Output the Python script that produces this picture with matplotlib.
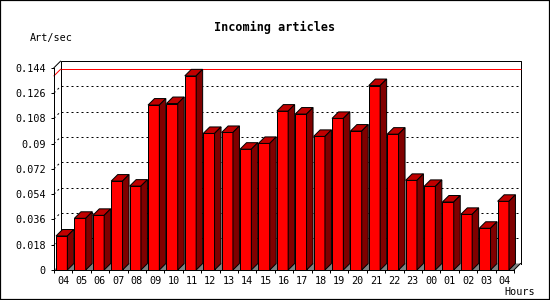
import matplotlib
matplotlib.use('Agg')
import matplotlib.pyplot as plt
import numpy as np
from matplotlib.patches import Polygon, Rectangle

# Data
hours = ['04', '05', '06', '07', '08', '09', '10', '11', '12', '13', '14', '15', '16',
         '17', '18', '19', '20', '21', '22', '23', '00', '01', '02', '03', '04']
art_per_sec = [0.0242, 0.0368, 0.0389, 0.0633, 0.0597, 0.1174, 0.1185, 0.1382, 0.0972,
               0.0979, 0.0860, 0.0901, 0.1131, 0.1110, 0.0951, 0.1079, 0.0989, 0.1313,
               0.0967, 0.0638, 0.0595, 0.0484, 0.0396, 0.0297, 0.0489]
y_ticks = [0, 0.018, 0.036, 0.054, 0.072, 0.09, 0.108, 0.126, 0.144]
y_tick_labels = ['0', '0.018', '0.036', '0.054', '0.072', '0.09', '0.108', '0.126', '0.144']

plt.rcParams['font.family'] = ['DejaVu Sans Mono']

W, H = 550, 300
fig = plt.figure(figsize=(W / 100, H / 100), dpi=100)
ax_w, ax_h = 460, 202.3
ax = fig.add_axes([54 / W, 30 / H, ax_w / W, ax_h / H])
n = len(hours)
ymax = y_ticks[-1]
ax.set_xlim(-0.5, n - 0.5)
ax.set_ylim(0, ymax)

# 3d depth (6.5 px) in data units
dx = 6.5 / (ax_w / n)
dy = 6.5 / (ax_h / ymax)
lw = 0.72

# floor
ax.add_patch(Polygon([(-0.5, 0), (n - 0.5, 0), (n - 0.5 + dx, dy), (-0.5 + dx, dy)],
                     closed=True, facecolor='#808080', edgecolor='none', zorder=1.5, clip_on=False))

# back wall: grid, frame, max line
dots = (0, (2, 3))
grid_vals = np.array(y_ticks[1:-1])
ax.hlines(grid_vals + dy, -0.5 + dx, n - 0.5 + dx, colors='black', linestyles=dots,
          linewidth=lw, zorder=1.6, clip_on=False)
for v in grid_vals:
    ax.plot([-0.5, -0.5 + dx], [v, v + dy], color='black', linestyle=dots, linewidth=lw,
            zorder=1.6, clip_on=False)
ax.plot([-0.5 + dx, -0.5 + dx, n - 0.5 + dx, n - 0.5 + dx], [dy, ymax + dy, ymax + dy, dy],
        color='black', linewidth=lw, zorder=1.7, clip_on=False)
ax.plot([-0.5, -0.5 + dx], [ymax, ymax + dy], color='black', linewidth=lw, zorder=1.7, clip_on=False)
ax.plot([n - 0.5, n - 0.5 + dx], [0, dy], color='black', linewidth=lw, zorder=1.7, clip_on=False)

vmax = max(art_per_sec)
ax.hlines(vmax + dy, -0.5 + dx, n - 0.5 + dx, colors='red', linewidth=lw, zorder=1.8, clip_on=False)
ax.plot([-0.5, -0.5 + dx], [vmax, vmax + dy], color='red', linewidth=lw, zorder=1.8, clip_on=False)

# bars
bw = 0.615
lefts = np.arange(n) - 0.39
ax.bar(lefts, art_per_sec, width=bw, align='edge', color='#ff0000', edgecolor='black',
       linewidth=lw, zorder=3)
for l, v in zip(lefts, art_per_sec):
    top = [(l, v), (l + bw, v), (l + bw + dx, v + dy), (l + dx, v + dy)]
    side = [(l + bw, 0), (l + bw + dx, dy), (l + bw + dx, v + dy), (l + bw, v)]
    ax.add_patch(Polygon(top, closed=True, facecolor='#c00000', edgecolor='black',
                         linewidth=lw, zorder=3, clip_on=False))
    ax.add_patch(Polygon(side, closed=True, facecolor='#800000', edgecolor='black',
                         linewidth=lw, zorder=3, clip_on=False))

# axes
for s in ['top', 'right']:
    ax.spines[s].set_visible(False)
for s in ['left', 'bottom']:
    ax.spines[s].set_linewidth(lw)
    ax.spines[s].set_zorder(4)
ax.set_yticks(y_ticks, y_tick_labels)
ax.tick_params(axis='y', length=2.2, width=lw, pad=3.6, labelsize=7.3)
ax.set_xticks(np.arange(n + 1) - 0.5, [''] * (n + 1))
ax.set_xticks(np.arange(n), hours, minor=True)
ax.tick_params(axis='x', which='major', length=2.5, width=lw)
ax.tick_params(axis='x', which='minor', length=0, pad=4, labelsize=7.3)
ax.patch.set_visible(False)

fig.text(275 / W, 1 - 27 / H, 'Incoming articles', ha='center', va='center',
         fontsize=8.5, fontweight='bold')
fig.text(30 / W, 1 - 38 / H, 'Art/sec', ha='left', va='center', fontsize=7.3)
fig.text(504 / W, 1 - 292 / H, 'Hours', ha='left', va='center', fontsize=7.3)

# outer border
fig.add_artist(Rectangle((0, 0), 1, 1, transform=fig.transFigure,
                         fill=False, edgecolor='black', linewidth=1.6))

fig.savefig('out.png', dpi=100)
